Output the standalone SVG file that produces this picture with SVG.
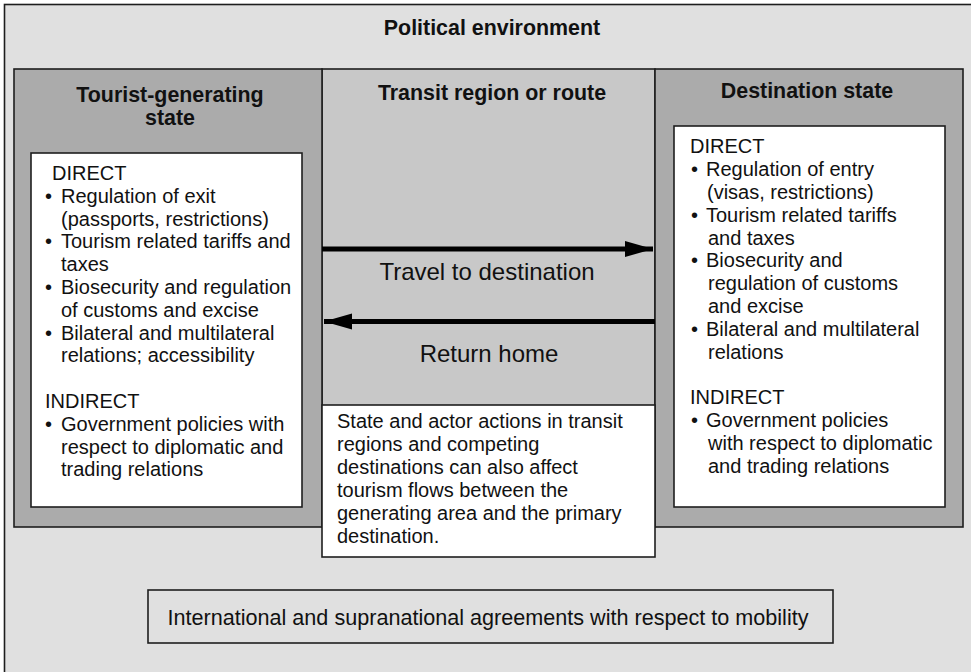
<svg xmlns="http://www.w3.org/2000/svg" width="971" height="672" viewBox="0 0 971 672">
  <style>
    .t { font-family: "Liberation Sans", Arial, Helvetica, sans-serif; fill: #111; }
    .body { font-size: 20px; }
    .hd { font-size: 21.4px; font-weight: bold; text-anchor: middle; }
    .flow { font-size: 24px; text-anchor: middle; }
    .frame { stroke: #1e1e1e; stroke-width: 1.6; }
    .side { fill: #ababab; }
    .mid { fill: #c8c8c8; }
    .card { fill: #ffffff; }
    .arrow { stroke: #000; stroke-width: 5; fill: none; }
  </style>
  <defs>
    <marker id="head" markerUnits="userSpaceOnUse" markerWidth="30" markerHeight="17" refX="28" refY="8.5" orient="auto">
      <path d="M0,0.5 L28,8.5 L0,16.5 Z" fill="#000"/>
    </marker>
  </defs>

  <!-- outer political environment frame -->
  <g id="political-environment">
    <rect x="4.5" y="4.5" width="990" height="690" fill="#e0e0e0" class="frame"/>
    <text class="t hd" x="492" y="35">Political environment</text>
  </g>

  <!-- transit region (middle column) -->
  <g id="transit-region">
    <rect x="322" y="69" width="333" height="458" class="mid frame"/>
    <text class="t hd" x="492" y="100">Transit region or route</text>
  </g>

  <!-- tourist-generating state -->
  <g id="generating-state">
    <rect x="14" y="69" width="308" height="458" class="side frame"/>
    <text class="t hd" x="170" y="102">Tourist-generating</text>
    <text class="t hd" x="170" y="125">state</text>
    <rect x="31" y="153" width="271" height="354" class="card frame"/>
    <text class="t body">
      <tspan x="52" y="180">DIRECT</tspan>
      <tspan x="45" y="202.8">•</tspan><tspan x="61" y="202.8">Regulation of exit</tspan>
      <tspan x="61" y="225.6">(passports, restrictions)</tspan>
      <tspan x="45" y="248.4">•</tspan><tspan x="61" y="248.4">Tourism related tariffs and</tspan>
      <tspan x="61" y="271.2">taxes</tspan>
      <tspan x="45" y="294">•</tspan><tspan x="61" y="294">Biosecurity and regulation</tspan>
      <tspan x="61" y="316.8">of customs and excise</tspan>
      <tspan x="45" y="339.6">•</tspan><tspan x="61" y="339.6">Bilateral and multilateral</tspan>
      <tspan x="61" y="362.4">relations; accessibility</tspan>
      <tspan x="45" y="408">INDIRECT</tspan>
      <tspan x="45" y="430.8">•</tspan><tspan x="61" y="430.8">Government policies with</tspan>
      <tspan x="61" y="453.6">respect to diplomatic and</tspan>
      <tspan x="61" y="476.4">trading relations</tspan>
    </text>
  </g>

  <!-- destination state -->
  <g id="destination-state">
    <rect x="655" y="69" width="308" height="458" class="side frame"/>
    <text class="t hd" x="807" y="98">Destination state</text>
    <rect x="674" y="126" width="271" height="381" class="card frame"/>
    <text class="t body">
      <tspan x="690" y="153">DIRECT</tspan>
      <tspan x="691" y="176">•</tspan><tspan x="706" y="176">Regulation of entry</tspan>
      <tspan x="707" y="199">(visas, restrictions)</tspan>
      <tspan x="691" y="222">•</tspan><tspan x="706" y="222">Tourism related tariffs</tspan>
      <tspan x="708" y="244.6">and taxes</tspan>
      <tspan x="691" y="267.4">•</tspan><tspan x="706" y="267.4">Biosecurity and</tspan>
      <tspan x="708" y="290.2">regulation of customs</tspan>
      <tspan x="708" y="313">and excise</tspan>
      <tspan x="691" y="335.8">•</tspan><tspan x="706" y="335.8">Bilateral and multilateral</tspan>
      <tspan x="708" y="358.6">relations</tspan>
      <tspan x="690" y="404.2">INDIRECT</tspan>
      <tspan x="691" y="427">•</tspan><tspan x="706" y="427">Government policies</tspan>
      <tspan x="708" y="449.8">with respect to diplomatic</tspan>
      <tspan x="708" y="472.6">and trading relations</tspan>
    </text>
  </g>

  <!-- note on transit regions -->
  <g id="transit-note">
    <rect x="322" y="405" width="333" height="152" class="card frame"/>
    <text class="t body">
      <tspan x="337" y="428">State and actor actions in transit</tspan>
      <tspan x="337" y="451">regions and competing</tspan>
      <tspan x="337" y="474">destinations can also affect</tspan>
      <tspan x="337" y="497">tourism flows between the</tspan>
      <tspan x="337" y="520">generating area and the primary</tspan>
      <tspan x="337" y="543">destination.</tspan>
    </text>
  </g>

  <!-- international agreements -->
  <g id="international-agreements">
    <rect x="148" y="590" width="685" height="53" fill="#e0e0e0" class="frame"/>
    <text class="t" font-size="21.6" x="488" y="625" text-anchor="middle">International and supranational agreements with respect to mobility</text>
  </g>

  <!-- flows between the two states -->
  <g id="connectors">
    <line class="arrow" x1="322" y1="249" x2="653" y2="249" marker-end="url(#head)"/>
    <line class="arrow" x1="655" y1="321.5" x2="324" y2="321.5" marker-end="url(#head)"/>
    <text class="t flow" x="487" y="280">Travel to destination</text>
    <text class="t flow" x="489" y="362">Return home</text>
  </g>
</svg>
